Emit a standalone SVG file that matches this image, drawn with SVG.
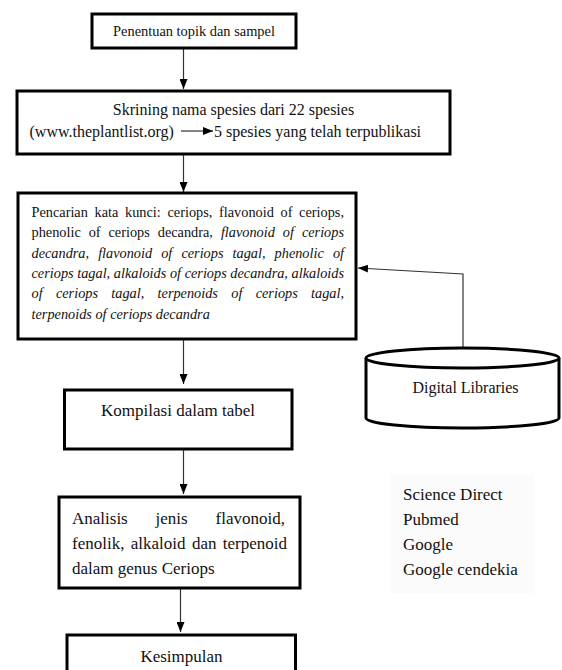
<svg xmlns="http://www.w3.org/2000/svg" width="562" height="670" viewBox="0 0 562 670">
<defs>
<style>
.box{fill:#fff;stroke:#000;stroke-width:3}
.t{font-family:"Liberation Serif","Times New Roman",serif;fill:#111}
.i{font-style:italic}
.c{stroke:#333;stroke-width:1.2;fill:none}
</style>
<marker id="ah" markerWidth="10" markerHeight="8" refX="10" refY="4" orient="auto" markerUnits="userSpaceOnUse">
<path d="M0,0 L10,4 L0,8 Z" fill="#000"/>
</marker>
</defs>
<rect width="562" height="670" fill="#fff"/>

<g id="connectors">
<line class="c" x1="183.5" y1="48" x2="183.5" y2="89" marker-end="url(#ah)"/>
<line class="c" x1="183.5" y1="155" x2="183.5" y2="192" marker-end="url(#ah)"/>
<line class="c" x1="183.5" y1="340" x2="183.5" y2="384" marker-end="url(#ah)"/>
<line class="c" x1="183.5" y1="450" x2="183.5" y2="494" marker-end="url(#ah)"/>
<line class="c" x1="180.5" y1="589" x2="180.5" y2="632" marker-end="url(#ah)"/>
<polyline class="c" points="463,348 463,274 358,268" marker-end="url(#ah)"/>
</g>

<g id="n1">
<rect class="box" x="92" y="14" width="204" height="34"/>
<text class="t" x="194" y="36" font-size="14.4" text-anchor="middle">Penentuan topik dan sampel</text>
</g>

<g id="n2">
<rect class="box" x="17" y="91" width="433" height="63"/>
<text class="t" x="233.5" y="115" font-size="16" text-anchor="middle">Skrining nama spesies dari 22 spesies</text>
<text class="t" x="29.5" y="137" font-size="16">(www.theplantlist.org)</text>
<line class="c" x1="181" y1="131" x2="213" y2="131" marker-end="url(#ah)"/>
<text class="t" x="214" y="137" font-size="16">5 spesies yang telah terpublikasi</text>
</g>

<g id="n3">
<rect class="box" x="18" y="193" width="338" height="146"/>
<g class="t" font-size="14.3">
<text y="217"><tspan x="31.5">Pencarian</tspan><tspan x="94.56">kata</tspan><tspan x="125.06">kunci:</tspan><tspan x="167.49">ceriops,</tspan><tspan x="219.04">flavonoid</tspan><tspan x="280.53">of</tspan><tspan x="299.12">ceriops,</tspan></text>
<text y="237.3"><tspan x="31.5">phenolic</tspan><tspan x="88.68">of</tspan><tspan x="108.53">ceriops</tspan><tspan x="157.76">decandra,</tspan><tspan class="i" x="220.88">flavonoid</tspan><tspan class="i" x="282.84">of</tspan><tspan class="i" x="301.9">ceriops</tspan></text>
<text class="i" y="257.6"><tspan x="31.5">decandra,</tspan><tspan x="98.14">flavonoid</tspan><tspan x="161.22">of</tspan><tspan x="181.4">ceriops</tspan><tspan x="232.55">tagal,</tspan><tspan x="274.58">phenolic</tspan><tspan x="332.88">of</tspan></text>
<text class="i" y="277.9"><tspan x="31.5">ceriops</tspan><tspan x="77.22">tagal,</tspan><tspan x="113.82">alkaloids</tspan><tspan x="169.88">of</tspan><tspan x="184.63">ceriops</tspan><tspan x="230.35">decandra,</tspan><tspan x="291.56">alkaloids</tspan></text>
<text class="i" y="298.2"><tspan x="31.5">of</tspan><tspan x="55.92">ceriops</tspan><tspan x="111.31">tagal,</tspan><tspan x="157.58">terpenoids</tspan><tspan x="231.24">of</tspan><tspan x="255.66">ceriops</tspan><tspan x="311.05">tagal,</tspan></text>
<text class="i" x="31.5" y="318.5">terpenoids of ceriops decandra</text>
</g>
</g>

<g id="n4">
<rect class="box" x="64.5" y="390" width="227.5" height="59"/>
<text class="t" x="178" y="416" font-size="17" text-anchor="middle">Kompilasi dalam tabel</text>
</g>

<g id="n5">
<rect class="box" x="59" y="497" width="241" height="91"/>
<g class="t" font-size="17">
<text y="524"><tspan x="72">Analisis</tspan><tspan x="155.6">jenis</tspan><tspan x="215.6">flavonoid,</tspan></text>
<text y="549"><tspan x="72">fenolik,</tspan><tspan x="130.76">alkaloid</tspan><tspan x="191.88">dan</tspan><tspan x="222.78">terpenoid</tspan></text>
<text x="72" y="574">dalam genus Ceriops</text>
</g>
</g>

<g id="n6">
<rect class="box" x="67" y="635" width="228.5" height="50"/>
<text class="t" x="181.5" y="662" font-size="17" text-anchor="middle">Kesimpulan</text>
</g>

<g id="digital-libraries">
<path class="box" d="M366,358 V418 A96.5,10 0 0 0 559,418 V358"/>
<ellipse class="box" cx="462.5" cy="358" rx="96.5" ry="10"/>
<text class="t" x="465.5" y="393" font-size="16" text-anchor="middle">Digital Libraries</text>
</g>

<g id="sources">
<rect x="391" y="475" width="143" height="118" fill="#fbfbfb"/>
<g class="t" font-size="17">
<text x="403" y="500">Science Direct</text>
<text x="403" y="525">Pubmed</text>
<text x="403" y="550">Google</text>
<text x="403" y="575">Google cendekia</text>
</g>
</g>
</svg>
